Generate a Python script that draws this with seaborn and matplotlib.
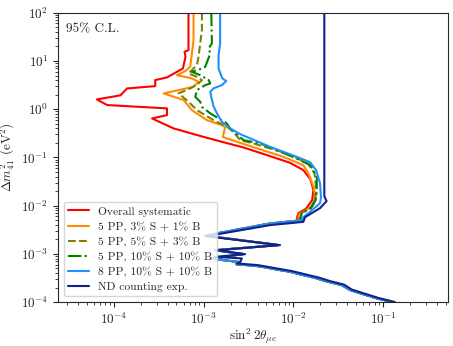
import matplotlib
matplotlib.use("Agg")
import matplotlib.pyplot as plt
import seaborn as sns

# Overall systematic
red_x = [6.8e-4, 6.8e-4, 6.15e-4, 6.3e-4, 5.9e-4, 5.06e-4, 3.92e-4, 2.9e-4, 2.9e-4, 1.41e-4,
         1.19e-4, 6.5e-5, 8.45e-5, 3.92e-4, 3.92e-4, 2.67e-4, 4.64e-4, 1.0e-3, 1.6e-3, 2.78e-3,
         5.06e-3, 9.2e-3, 0.0129, 0.0155, 0.0167, 0.0162, 0.0138, 0.0114, 0.0109]
red_y = [100, 16.8, 15.5, 12.2, 7.0, 5.97, 4.57, 4.02, 3.01, 2.70,
         1.94, 1.6, 1.22, 1.04, 0.755, 0.644, 0.40, 0.267, 0.211, 0.161,
         0.112, 0.0773, 0.0546, 0.035, 0.021, 0.013, 8.6e-3, 7.0e-3, 5.42e-3]

# 5 PP, 3% S + 1% B
orange_x = [7.74e-4, 7.74e-4, 7.43e-4, 7.11e-4, 6.26e-4, 5.06e-4, 7.43e-4, 8.8e-4, 7.74e-4, 3.6e-4,
            6.0e-4, 7.43e-4, 1.09e-3, 1.6e-3, 1.74e-3, 1.64e-3, 2.56e-3, 4.27e-3, 7.74e-3, 0.0129,
            0.0147, 0.0168, 0.0174, 0.0166, 0.0139, 0.0116, 0.0113]
orange_y = [100, 27.2, 14.4, 7.59, 6.17, 5.09, 4.35, 3.70, 2.92, 2.13,
            1.55, 0.957, 0.594, 0.468, 0.426, 0.264, 0.201, 0.147, 0.103, 0.0692,
            0.0465, 0.0245, 0.016, 0.0102, 8.07e-3, 6.67e-3, 5.42e-3]

# 5 PP, 5% S + 3% B
olive_x = [9.6e-4, 9.6e-4, 9.18e-4, 8.8e-4, 8.44e-4, 6.8e-4, 8.44e-4, 9.6e-4, 8.8e-4, 7.11e-4,
           5.27e-4, 6.8e-4, 8.44e-4, 1.29e-3, 1.82e-3, 2.15e-3, 2.56e-3, 3.6e-3, 8.45e-3, 0.0145,
           0.0172, 0.018, 0.0175, 0.0153, 0.0122, 0.01156]
olive_y = [100, 43.8, 23.2, 12.2, 8.22, 5.53, 4.70, 4.02, 3.43, 2.70,
           2.13, 1.43, 0.957, 0.594, 0.432, 0.340, 0.229, 0.195, 0.121, 0.0751,
           0.0466, 0.021, 0.013, 8.87e-3, 6.98e-3, 5.42e-3]

# 5 PP, 10% S + 10% B
green_x = [1.22e-3, 1.24e-3, 1.14e-3, 1.19e-3, 1.045e-3, 9.93e-4, 7.43e-4, 9.18e-4, 1.14e-3, 1.19e-3,
           1.045e-3, 8.44e-4, 8.09e-4, 9.18e-4, 9.6e-4, 1.19e-3, 1.82e-3, 1.98e-3, 2.78e-3, 4.27e-3,
           9.8e-3, 0.0155, 0.0182, 0.0182, 0.0177, 0.0157, 0.0125, 0.0119]
green_y = [100, 23.2, 18.2, 14.4, 7.59, 7.13, 5.97, 5.09, 4.02, 3.43,
           3.16, 2.49, 1.81, 1.43, 1.12, 0.819, 0.507, 0.40, 0.229, 0.195,
           0.103, 0.0692, 0.0396, 0.019, 0.013, 8.87e-3, 6.98e-3, 5.42e-3]

# 8 PP, 10% S + 10% B
blue_x = [1.53e-3, 1.53e-3, 1.47e-3, 1.47e-3, 1.61e-3, 1.79e-3, 1.6e-3, 1.29e-3, 1.19e-3, 1.22e-3,
          1.29e-3, 1.41e-3, 1.6e-3, 1.98e-3, 2.56e-3, 5.5e-3, 0.0109, 0.0153, 0.0179, 0.0198,
          0.0203, 0.0198, 0.0153, 0.0124]
blue_y = [100, 23.2, 13.2, 7.0, 4.42, 3.83, 3.16, 2.70, 2.30, 1.78,
          1.16, 0.819, 0.548, 0.40, 0.304, 0.166, 0.103, 0.0798, 0.0546, 0.0289,
          0.015, 0.01126, 7.43e-3, 5.42e-3]

# low dm2 part, common to the curves above
tail_x = [0.0129, 5.5e-3, 1.045e-3, 6.76e-3, 1.35e-3, 2.76e-3, 1.22e-3, 2.56e-3, 2.31e-3, 4.05e-3,
          9.18e-3, 0.0183, 0.0243, 0.0348, 0.0427, 0.0851, 0.128]
tail_y = [5.0e-3, 4.27e-3, 2.39e-3, 1.52e-3, 1.19e-3, 9.86e-4, 7.94e-4, 6.73e-4, 6.11e-4, 5.56e-4,
          4.24e-4, 3.09e-4, 2.63e-4, 2.24e-4, 1.77e-4, 1.19e-4, 1e-4]

# ND counting exp.
nd_x = [0.0221, 0.0221, 0.0234, 0.0198, 0.0135, 0.0129, 5.5e-3, 1.07e-3, 7.1e-3, 1.42e-3,
        2.9e-3, 1.35e-3, 2.67e-3, 2.56e-3, 2.37e-3, 4.05e-3, 9.68e-3, 0.0193, 0.0256, 0.0366,
        0.0449, 0.0895, 0.135]
nd_y = [100, 0.0157, 0.0124, 8.87e-3, 5.77e-3, 4.61e-3, 3.94e-3, 2.32e-3, 1.52e-3, 1.19e-3,
        9.86e-4, 8.67e-4, 8.03e-4, 6.83e-4, 6.32e-4, 5.83e-4, 4.38e-4, 3.21e-4, 2.72e-4, 2.30e-4,
        1.81e-4, 1.21e-4, 1e-4]

labels = ["Overall systematic", "5 PP, 3% S + 1% B", "5 PP, 5% S + 3% B",
          "5 PP, 10% S + 10% B", "8 PP, 10% S + 10% B", "ND counting exp."]

sns.set_style("ticks")
plt.rcParams['font.family'] = 'serif'
plt.rcParams['font.serif'] = ['cmr10', 'DejaVu Serif']
plt.rcParams['mathtext.fontset'] = 'cm'
plt.rcParams['axes.formatter.use_mathtext'] = True
plt.rcParams['font.size'] = 9.5

fig, ax = plt.subplots(figsize=(4.53, 3.46), dpi=100)
fig.subplots_adjust(left=0.128, right=0.988, bottom=0.127, top=0.963)

curves = [
    (red_x + tail_x, red_y + tail_y, "red", "-"),
    (orange_x + tail_x, orange_y + tail_y, "darkorange", "-"),
    (olive_x + tail_x, olive_y + tail_y, "olive", "--"),
    (green_x + tail_x, green_y + tail_y, "green", "-."),
    (blue_x + tail_x, blue_y + tail_y, "dodgerblue", "-"),
    (nd_x, nd_y, "#14208c", "-"),
]
for (xs, ys, c, ls), lab in zip(curves, labels):
    sns.lineplot(x=xs, y=ys, ax=ax, color=c, linestyle=ls, lw=1.5,
                 estimator=None, sort=False, label=lab)

ax.set_xscale("log")
ax.set_yscale("log")
ax.set_xlim(2.4e-5, 0.52)
ax.set_ylim(1e-4, 100)
ax.set_xlabel(r"$\sin^2 2\theta_{\mu e}$")
ax.xaxis.set_label_coords(0.5, -0.085)
ax.set_ylabel(r"$\Delta m^2_{41}$ (eV$^2$)")
ax.yaxis.set_label_coords(-0.105, 0.5)
ax.text(0.02, 0.965, "95% C.L.", transform=ax.transAxes, va="top", ha="left", fontsize=9.5)
ax.legend(loc="lower left", fontsize=8.3, labelspacing=0.38, handlelength=1.8)

plt.savefig("out.png", dpi=100)
